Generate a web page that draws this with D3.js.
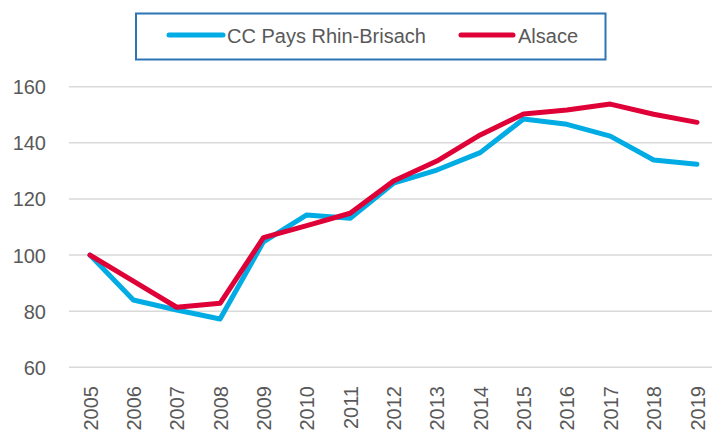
<!DOCTYPE html>
<html>
<head>
<meta charset="utf-8">
<script src="https://cdn.jsdelivr.net/npm/d3@7"></script>
<style>
  html, body { margin: 0; padding: 0; background: #fff; }
  svg { display: block; }
  text { font-family: "Liberation Sans", Arial, sans-serif; fill: #595959; }
</style>
</head>
<body>
<svg id="chart" width="717" height="432"></svg>
<script>
const years = ["2005","2006","2007","2008","2009","2010","2011","2012","2013","2014","2015","2016","2017","2018","2019"];
const ccPays = [100, 84.0, 80.4, 77.2, 104.7, 114.3, 113.1, 125.6, 130.3, 136.5, 148.5, 146.6, 142.4, 133.9, 132.4];
const alsace = [100, 90.7, 81.4, 82.8, 106.2, 110.5, 114.9, 126.4, 133.5, 142.8, 150.3, 151.7, 153.8, 150.2, 147.3];
const yTicks = [60, 80, 100, 120, 140, 160];
const seriesNames = ["CC Pays Rhin-Brisach", "Alsace"];
const seriesColors = ["#00ACE3", "#DE0036"];

const svg = d3.select("#chart");
const x = d3.scalePoint().domain(years).range([90, 697]);
const y = d3.scaleLinear().domain([60, 160]).range([367.3, 86.7]);
const gridX0 = 69, gridX1 = 712;

// gridlines
svg.append("g").selectAll("line").data(yTicks).join("line")
  .attr("x1", gridX0).attr("x2", gridX1)
  .attr("y1", d => y(d)).attr("y2", d => y(d))
  .attr("stroke", "#D9D9D9").attr("stroke-width", 1.5);

// y axis labels
const yAxis = d3.axisLeft(y).tickValues(yTicks).tickSize(0).tickPadding(0);
const gy = svg.append("g").attr("transform", "translate(46,0)").call(yAxis);
gy.select(".domain").remove();
gy.selectAll("text").attr("font-size", 20).attr("fill", "#595959")
  .attr("font-family", "Liberation Sans, Arial, sans-serif").attr("dy", "0.35em");

// x axis labels
const xAxis = d3.axisBottom(x).tickSize(0).tickPadding(0);
const gx = svg.append("g").attr("transform", "translate(0,386)").call(xAxis);
gx.select(".domain").remove();
gx.selectAll("text")
  .attr("font-size", 20).attr("fill", "#595959")
  .attr("font-family", "Liberation Sans, Arial, sans-serif")
  .attr("text-anchor", "end")
  .attr("transform", "rotate(-90)")
  .attr("x", 0).attr("y", 0).attr("dy", "0.35em");

// lines
const line = d3.line().x((d, i) => x(years[i])).y(d => y(d));
[ccPays, alsace].forEach((vals, k) => {
  svg.append("path").datum(vals)
    .attr("d", line)
    .attr("fill", "none")
    .attr("stroke", seriesColors[k])
    .attr("stroke-width", 5)
    .attr("stroke-linejoin", "round")
    .attr("stroke-linecap", "round");
});

// legend
const lg = svg.append("g");
lg.append("rect").attr("x", 136).attr("y", 13.5).attr("width", 469.5).attr("height", 46)
  .attr("fill", "#fff").attr("stroke", "#2E75B6").attr("stroke-width", 2);
const legendItems = [
  {x1: 169, x2: 223, tx: 227},
  {x1: 461, x2: 513, tx: 518}
];
legendItems.forEach((it, k) => {
  lg.append("line").attr("x1", it.x1).attr("x2", it.x2).attr("y1", 35).attr("y2", 35)
    .attr("stroke", seriesColors[k]).attr("stroke-width", 5).attr("stroke-linecap", "round");
  lg.append("text").attr("x", it.tx).attr("y", 42.5).attr("font-size", 20)
    .text(seriesNames[k]);
});
</script>
</body>
</html>
